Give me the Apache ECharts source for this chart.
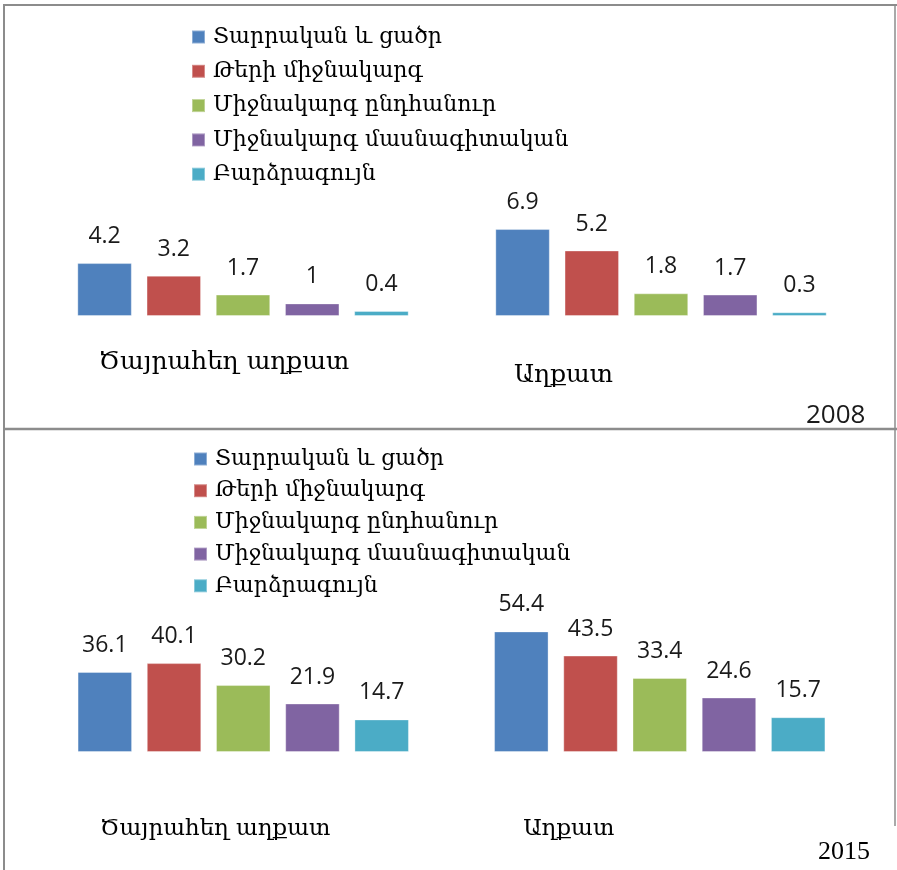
<!DOCTYPE html>
<html>
<head>
<meta charset="utf-8">
<script src="https://cdn.jsdelivr.net/npm/echarts@6/dist/echarts.min.js"></script>
<style>
    html, body { margin: 0; padding: 0; background: #fff; }
    #main { width: 897px; height: 870px; }
</style>
</head>
<body>
<div id="main"></div>
<script>
var categories = ['Ծայրահեղ աղքատ', 'Աղքատ'];
var levels = ['Տարրական և ցածր', 'Թերի միջնակարգ', 'Միջնակարգ ընդհանուր', 'Միջնակարգ մասնագիտական', 'Բարձրագույն'];
var colors = ['#4F81BD', '#C0504D', '#9BBB59', '#8064A2', '#4BACC6'];
// one row per level: [Ծայրահեղ աղքատ, Աղքատ]
var data2008 = [[4.2, 6.9], [3.2, 5.2], [1.7, 1.8], [1, 1.7], [0.4, 0.3]];
var data2015 = [[36.1, 54.4], [40.1, 43.5], [30.2, 33.4], [21.9, 24.6], [14.7, 15.7]];
var years = ['2008', '2015'];

var armFont = '"DejaVu Serif", serif';
var numFont = '"Open Sans", sans-serif';

var myChart = echarts.init(document.getElementById('main'));

function makeSeries(data, idx) {
    var list = [];
    for (var i = 0; i < levels.length; i++) {
        list.push({
            name: levels[i],
            type: 'bar',
            xAxisIndex: idx,
            yAxisIndex: idx,
            barWidth: 54.5,
            barGap: '27%',
            itemStyle: { color: colors[i], borderColor: 'rgba(255,255,255,0.35)', borderWidth: 1 },
            label: {
                show: true,
                position: 'top',
                distance: 15,
                color: '#1a1a1a',
                fontFamily: numFont,
                fontSize: 23
            },
            emphasis: { disabled: true },
            data: data[i]
        });
    }
    return list;
}

function makeLegend(top, gap, left) {
    return {
        orient: 'vertical',
        left: left,
        top: top,
        itemWidth: 13,
        itemHeight: 13,
        itemGap: gap,
        icon: 'rect',
        selectedMode: false,
        textStyle: {
            fontFamily: armFont,
            fontSize: 22,
            lineHeight: 22,
            color: '#000',
            padding: [0, 0, 0, 3]
        },
        data: levels
    };
}

// category label shifts (Excel placed them off-centre)
function catLabel(margin, rich) {
    return {
        interval: 0,
        margin: margin,
        verticalAlign: 'top',
        formatter: function (v, i) {
            return '{c' + i + '|' + v + '}';
        },
        rich: rich
    };
}

var option = {
    animation: false,
    color: colors,
    legend: [makeLegend(21, 12.3, 186), makeLegend(443, 9.7, 188)],
    grid: [
        { left: 34, right: 27, top: 190, height: 126 },
        { left: 35, right: 29, top: 619, height: 133 }
    ],
    xAxis: [{
        type: 'category',
        gridIndex: 0,
        data: categories,
        axisLine: { show: false },
        axisTick: { show: false },
        axisLabel: catLabel(34, {
            c0: { fontFamily: armFont, fontSize: 25, color: '#000', padding: [0, 38, 0, 0] },
            c1: { fontFamily: armFont, fontSize: 25, color: '#000', padding: [13, 195, 0, 0] }
        })
    }, {
        type: 'category',
        gridIndex: 1,
        data: categories,
        axisLine: { show: false },
        axisTick: { show: false },
        axisLabel: catLabel(66, {
            c0: { fontFamily: armFont, fontSize: 23, color: '#000', padding: [0, 56, 0, 0] },
            c1: { fontFamily: armFont, fontSize: 23, color: '#000', padding: [0, 182, 0, 0] }
        })
    }],
    yAxis: [{
        type: 'value',
        gridIndex: 0,
        min: 0,
        max: 10,
        show: false
    }, {
        type: 'value',
        gridIndex: 1,
        min: 0,
        max: 60,
        show: false
    }],
    series: makeSeries(data2008, 0).concat(makeSeries(data2015, 1)),
    graphic: [
        { type: 'line', shape: { x1: 3, y1: 5, x2: 897, y2: 5 }, style: { stroke: '#8c8c8c', lineWidth: 2 } },
        { type: 'line', shape: { x1: 4, y1: 4, x2: 4, y2: 870 }, style: { stroke: '#8c8c8c', lineWidth: 2 } },
        { type: 'line', shape: { x1: 3, y1: 429, x2: 897, y2: 429 }, style: { stroke: '#8c8c8c', lineWidth: 2.5 } },
        { type: 'line', shape: { x1: 895, y1: 4, x2: 895, y2: 826 }, style: { stroke: '#8c8c8c', lineWidth: 1.5 } },
        {
            type: 'text', left: 806, top: 403,
            style: { text: years[0], fontFamily: numFont, fontSize: 26, fill: '#1a1a1a' }
        },
        {
            type: 'text', left: 818, top: 839,
            style: { text: years[1], fontFamily: '"Liberation Serif", serif', fontSize: 26, fill: '#000' }
        }
    ]
};

myChart.setOption(option);
</script>
</body>
</html>
